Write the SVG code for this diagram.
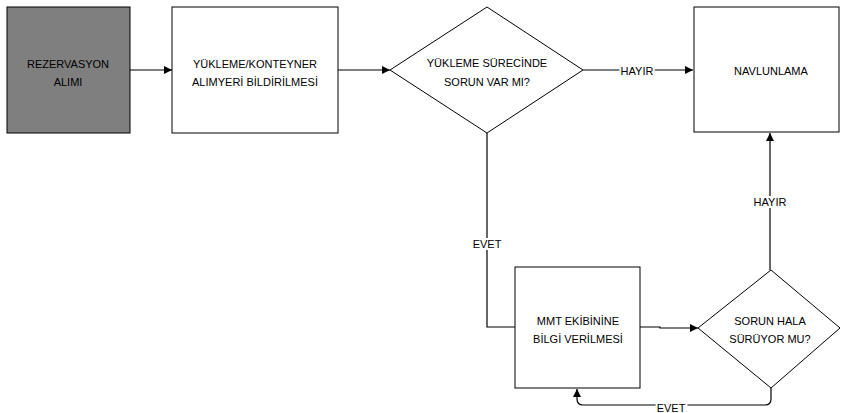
<svg xmlns="http://www.w3.org/2000/svg" width="841" height="413" viewBox="0 0 841 413">
  <style>
    .box { fill: #ffffff; stroke: #000000; stroke-width: 1; }
    .dark { fill: #7f7f7f; }
    .link { fill: none; stroke: #000000; stroke-width: 1.2; }
    text { font-family: "Liberation Sans", Arial, sans-serif; font-size: 11px; fill: #000000; text-anchor: middle; }
    .lbl { stroke: #ffffff; stroke-width: 4; paint-order: stroke; }
  </style>
  <defs>
    <marker id="arrow" viewBox="0 0 10 10" refX="10" refY="5" markerWidth="8" markerHeight="8" markerUnits="userSpaceOnUse" orient="auto">
      <path d="M0,0 L10,5 L0,10 z" fill="#000000"/>
    </marker>
  </defs>

  <rect width="841" height="413" fill="#ffffff"/>

  <!-- connectors -->
  <g id="connectors">
    <path class="link" d="M130,70 H172" marker-end="url(#arrow)"/>
    <path class="link" d="M338,70 H390" marker-end="url(#arrow)"/>
    <path class="link" d="M583,70 H693" marker-end="url(#arrow)"/>
    <path class="link" d="M487,133 V327 H515"/>
    <path class="link" d="M640,327 H660 V328 H698" marker-end="url(#arrow)"/>
    <path class="link" d="M770,270 V133" marker-end="url(#arrow)"/>
    <path class="link" d="M771,388 V399 Q771,405 765,405 H583 Q577,405 577,399 V389" marker-end="url(#arrow)"/>
    <text class="lbl" x="637" y="75">HAYIR</text>
    <text class="lbl" x="487" y="248">EVET</text>
    <text class="lbl" x="770" y="206">HAYIR</text>
    <text class="lbl" x="671" y="412">EVET</text>
  </g>

  <g id="rezervasyon">
    <rect class="box dark" x="7" y="7" width="123" height="126"/>
    <text x="68" y="68">REZERVASYON</text>
    <text x="68" y="86">ALIMI</text>
  </g>

  <g id="yukleme-bildirim">
    <rect class="box" x="172" y="7" width="166" height="126"/>
    <text x="255" y="68">YÜKLEME/KONTEYNER</text>
    <text x="255" y="86">ALIMYERİ BİLDİRİLMESİ</text>
  </g>

  <g id="sorun-var-mi">
    <polygon class="box" points="487,7 583,70 487,133 390,70"/>
    <text x="487" y="67">YÜKLEME SÜRECİNDE</text>
    <text x="487" y="86">SORUN VAR MI?</text>
  </g>

  <g id="navlunlama">
    <rect class="box" x="694" y="7" width="145" height="125"/>
    <text x="771" y="75">NAVLUNLAMA</text>
  </g>

  <g id="mmt-bilgi">
    <rect class="box" x="515" y="267" width="125" height="121"/>
    <text x="578" y="325">MMT EKİBİNİNE</text>
    <text x="578" y="343">BİLGİ VERİLMESİ</text>
  </g>

  <g id="sorun-suruyor-mu">
    <polygon class="box" points="771,270 840,328 771,388 698,328"/>
    <text x="770" y="325">SORUN HALA</text>
    <text x="770" y="343">SÜRÜYOR MU?</text>
  </g>
</svg>
